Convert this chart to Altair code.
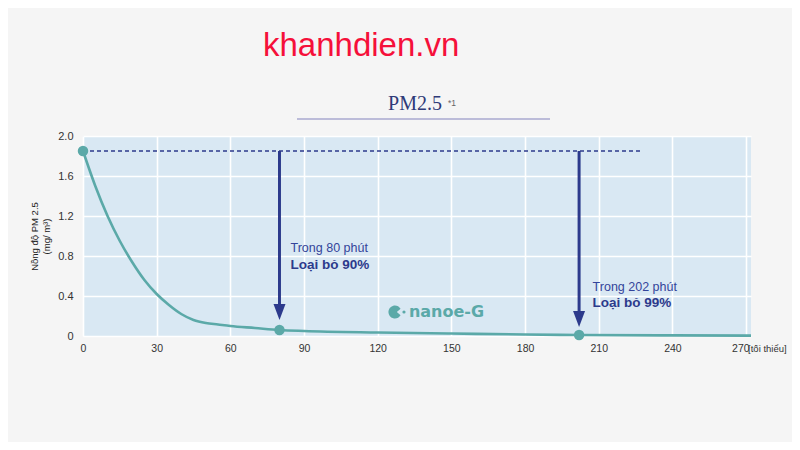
import altair as alt
import pandas as pd

# ---- data ----
t_min = [0, 5, 10, 15, 20, 25, 30, 35, 40, 45, 50, 55, 60, 70, 80, 90, 120, 150, 180, 202, 240, 272]
pm25 = [1.85, 1.50, 1.20, 0.95, 0.74, 0.56, 0.42, 0.31, 0.22, 0.16, 0.13, 0.115, 0.10, 0.08, 0.06,
        0.05, 0.035, 0.025, 0.015, 0.01, 0.006, 0.004]

start_level = 1.85
dash_end = 227
dot_t = [0, 80, 202]
dot_v = [1.85, 0.06, 0.01]

arrow_t = [80, 202]
arrow_head_v = [0.24, 0.17]

note_t = [84.5, 207.5]
note_line1 = ["Trong 80 phút", "Trong 202 phút"]
note_line1_v = [0.88, 0.49]
note_line2 = ["Loại bỏ 90%", "Loại bỏ 99%"]
note_line2_v = [0.71, 0.33]

x_ticks = [0, 30, 60, 90, 120, 150, 180, 210, 240, 270]
y_ticks = [0, 0.4, 0.8, 1.2, 1.6, 2.0]

logo_t = [127, 130.7, 132.7]
logo_v = 0.24

TEAL = "#5ba9a8"
NAVY = "#2c3a8c"
FONT = "Liberation Sans"

curve_df = pd.DataFrame({"t": t_min, "v": pm25})
dots_df = pd.DataFrame({"t": dot_t, "v": dot_v})
arrows_df = pd.DataFrame({"t": arrow_t, "top": [start_level] * 2, "head": arrow_head_v})
notes_df = pd.DataFrame({"t": note_t, "l1": note_line1, "v1": note_line1_v,
                         "l2": note_line2, "v2": note_line2_v})
dash_df = pd.DataFrame({"t0": [0], "t1": [dash_end], "v": [start_level]})

xs = alt.Scale(domain=[0, 272], nice=False, zero=False)
ys = alt.Scale(domain=[0, 2.0], nice=False)

x_axis = alt.Axis(values=x_ticks, tickCount=20, grid=True, gridColor="white", gridWidth=1.6,
                  domain=False, ticks=False, labelFlush=False, labelPadding=7,
                  labelFontSize=10.5, labelColor="#333", labelFont=FONT, title=None,
                  labelAlign={"condition": {"test": "datum.value == 270", "value": "right"}, "value": "center"},
                  labelOffset={"condition": {"test": "datum.value == 270", "value": 3}, "value": 0})
y_axis = alt.Axis(values=y_ticks, tickCount=12, grid=True, gridColor="white", gridWidth=1.6,
                  domain=False, ticks=False, labelFlush=False, labelPadding=10,
                  labelFontSize=11, labelColor="#333", labelFont=FONT, labelOverlap=False,
                  labelExpr="datum.value == 0 ? '0' : format(datum.value, '.1f')",
                  title=["Nồng độ PM 2.5", "(mg/ m³)"], titleFontSize=9.5,
                  titleFontWeight="normal", titleColor="#222", titleFont=FONT,
                  titlePadding=6, titleLineHeight=12)

base = alt.Chart(curve_df)

curve = base.mark_line(color=TEAL, strokeWidth=2.6, interpolate="monotone").encode(
    x=alt.X("t:Q", scale=xs, axis=x_axis),
    y=alt.Y("v:Q", scale=ys, axis=y_axis),
)

dash = alt.Chart(dash_df).mark_rule(color=NAVY, strokeWidth=1.4, strokeDash=[4, 3]).encode(
    x=alt.X("t0:Q", scale=xs), x2="t1:Q", y=alt.Y("v:Q", scale=ys)
)

shafts = alt.Chart(arrows_df).mark_rule(color=NAVY, strokeWidth=3).encode(
    x=alt.X("t:Q", scale=xs), y=alt.Y("top:Q", scale=ys), y2="head:Q"
)

heads = alt.Chart(arrows_df).mark_point(
    shape="M-0.6,-0.8L0.6,-0.8L0,0.8Z", size=400, filled=True, opacity=1, color=NAVY
).encode(x=alt.X("t:Q", scale=xs), y=alt.Y("head:Q", scale=ys))

dots = alt.Chart(dots_df).mark_point(filled=True, size=110, opacity=1, color=TEAL).encode(
    x=alt.X("t:Q", scale=xs), y=alt.Y("v:Q", scale=ys)
)

note1 = alt.Chart(notes_df).mark_text(align="left", baseline="middle", font=FONT, fontSize=12.5,
                                      color="#34449a").encode(
    x=alt.X("t:Q", scale=xs), y=alt.Y("v1:Q", scale=ys), text="l1:N"
)
note2 = alt.Chart(notes_df).mark_text(align="left", baseline="middle", font=FONT, fontSize=13.5,
                                      fontWeight="bold", color=NAVY).encode(
    x=alt.X("t:Q", scale=xs), y=alt.Y("v2:Q", scale=ys), text="l2:N"
)

logo_df = pd.DataFrame({"t": [logo_t[0]], "v": [logo_v]})
logo_circle = alt.Chart(logo_df).mark_point(
    shape="M0.87,-0.5A1,1 0 1,0 0.87,0.5L0.3,0Z", size=170, filled=True, opacity=1, color=TEAL
).encode(x=alt.X("t:Q", scale=xs), y=alt.Y("v:Q", scale=ys))
logo_dot = alt.Chart(pd.DataFrame({"t": [logo_t[1]], "v": [logo_v]})).mark_point(
    filled=True, size=10, opacity=1, color=TEAL
).encode(x=alt.X("t:Q", scale=xs), y=alt.Y("v:Q", scale=ys))
logo_text = alt.Chart(pd.DataFrame({"t": [logo_t[2]], "v": [logo_v], "s": ["nanoe-G"]})).mark_text(
    align="left", baseline="middle", font="DejaVu Sans", fontSize=16, fontWeight="bold", color=TEAL
).encode(x=alt.X("t:Q", scale=xs), y=alt.Y("v:Q", scale=ys), text="s:N")

unit_text = alt.Chart(pd.DataFrame({"t": [270], "s": ["[tối thiểu]"]})).mark_text(
    align="left", baseline="middle", font=FONT, fontSize=9.5, color="#333", dx=2
).encode(x=alt.X("t:Q", scale=xs), y=alt.value(213), text="s:N")

one = pd.DataFrame({"a": [0]})
watermark = alt.Chart(one).mark_text(align="left", baseline="alphabetic", font=FONT, fontSize=33,
                                     color="#f5103a", text="khanhdien.vn").encode(
    x=alt.value(180), y=alt.value(-80))
title = alt.Chart(one).mark_text(align="center", baseline="alphabetic", font="Liberation Serif",
                                 fontSize=20, color="#2f3a78", text="PM2.5").encode(
    x=alt.value(332), y=alt.value(-26))
title_note = alt.Chart(one).mark_text(align="left", baseline="alphabetic", font=FONT,
                                      fontSize=8.5, color="#666", text="*1").encode(
    x=alt.value(365), y=alt.value(-30))
underline = alt.Chart(one).mark_rule(color="#a9a9cf", strokeWidth=1.3).encode(
    x=alt.value(214), x2=alt.value(467), y=alt.value(-17))

chart = alt.layer(
    curve, dash, shafts, heads, dots, note1, note2, logo_circle, logo_dot, logo_text,
    unit_text, watermark, title, title_note, underline
).properties(
    width=668, height=200,
    autosize=alt.AutoSizeParams(type="none"),
    padding={"left": 75, "top": 128, "right": 41, "bottom": 106},
    background="#f5f5f5",
).configure_view(fill="#d9e8f3", stroke=None)

chart.save("out.html", embed_options={"renderer": "svg", "actions": False})
